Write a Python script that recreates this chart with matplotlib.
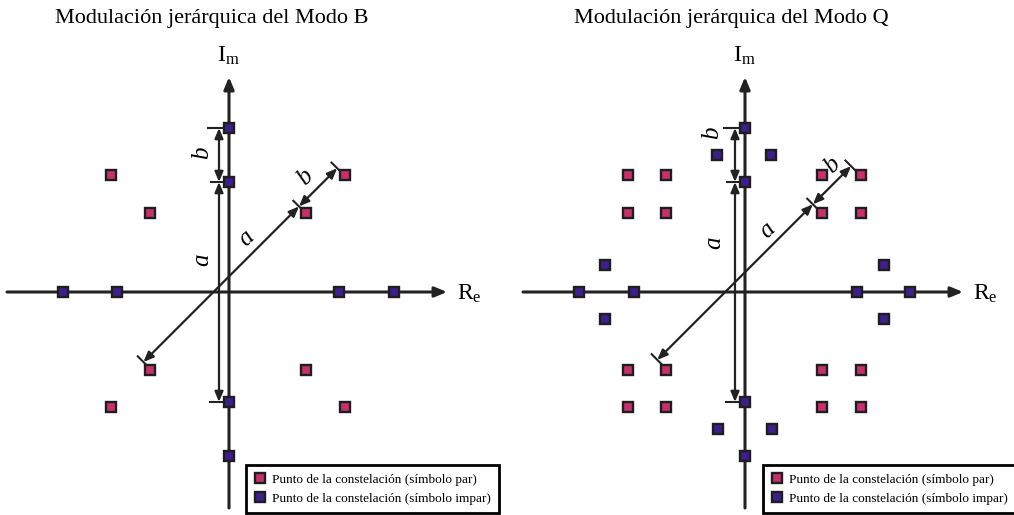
import numpy as np
import matplotlib
matplotlib.use("Agg")
import matplotlib.pyplot as plt
from matplotlib.lines import Line2D

plt.rcParams["font.family"] = ["Liberation Serif", "DejaVu Serif"]
plt.rcParams["mathtext.fontset"] = "custom"
plt.rcParams["mathtext.rm"] = "Liberation Serif"
plt.rcParams["mathtext.it"] = "Liberation Serif:italic"

# ring distances of the constellation (drawing units, 1 unit ~ 1 px)
A = 110
B = 54

titles = ["Modulación jerárquica del Modo B", "Modulación jerárquica del Modo Q"]
legend_labels = [
    "Punto de la constelación (símbolo par)",
    "Punto de la constelación (símbolo impar)",
]

# Modo B : 16 points, two rings
modeB_red_x = [-118, -79, 77, 116, -79, 77, -118, 116]
modeB_red_y = [117, 79, 79, 117, -78, -78, -115, -115]
modeB_blue_x = [0, 0, 0, 0, -166, -112, 110, 165]
modeB_blue_y = [164, 110, -110, -164, 0, 0, 0, 0]

# Modo Q : 32 points
modeQ_red_x = [-117, -79, -117, -79, 77, 116, 77, 116,
               -117, -79, -117, -79, 77, 116, 77, 116]
modeQ_red_y = [117, 117, 79, 79, 117, 117, 79, 79,
               -78, -78, -115, -115, -78, -78, -115, -115]
modeQ_blue_x = [0, 0, 0, 0, -166, -111, 112, 165,
                -28, 26, -140, -140, 139, 139, -27, 27]
modeQ_blue_y = [164, 110, -110, -164, 0, 0, 0, 0,
                137, 137, 27, -27, 27, -27, -137, -137]

RED = "#c8306a"
BLUE = "#3c1f8c"
EDGE = "#1e1e1e"
LINE = "#222222"


def arrow(ax, p0, p1, style="-|>", lw=2.0, ms=12):
    ax.annotate("", xy=p1, xytext=p0,
                arrowprops=dict(arrowstyle=style + ",head_length=0.6,head_width=0.25",
                                color=LINE, lw=lw, shrinkA=0, shrinkB=0,
                                mutation_scale=ms))


def tick(ax, p, n, half):
    ax.plot([p[0] - n[0] * half, p[0] + n[0] * half],
            [p[1] - n[1] * half, p[1] + n[1] * half], color=LINE, lw=1.5)


def draw_panel(ax, rx, ry, bx, by, diag_off, lbl):
    # axes Re / Im
    arrow(ax, (-222, 0), (218, 0), lw=2.2)
    arrow(ax, (0, -216), (0, 215), lw=2.2)
    ax.text(-1, 230, r"$\mathrm{I}_\mathrm{m}$", fontsize=17, ha="center", va="baseline")
    ax.text(228, -8, r"$\mathrm{R}_\mathrm{e}$", fontsize=17, ha="left", va="baseline")

    # vertical dimension
    xv = -10
    arrow(ax, (xv, -A), (xv, A), style="<|-|>", lw=1.6, ms=10)
    arrow(ax, (xv, A), (xv, A + B), style="<|-|>", lw=1.6, ms=10)
    tick(ax, (xv - 1, A + B), (1, 0), 10)
    tick(ax, (xv, A), (1, 0), 8)
    tick(ax, (xv - 3, -A), (1, 0), 6)

    # diagonal dimension
    u = np.array([1, 1]) / np.sqrt(2)
    n = np.array([-1, 1]) / np.sqrt(2)
    P = lambda s: tuple(s * u + diag_off * n)
    arrow(ax, P(-A), P(A), style="<|-|>", lw=1.6, ms=10)
    arrow(ax, P(A), P(A + B), style="<|-|>", lw=1.6, ms=10)
    for s in (-A, A, A + B):
        tick(ax, P(s), n, 8)

    for (x, y, t, r) in lbl:
        ax.text(x, y, t, fontsize=18, style="italic", rotation=r,
                ha="center", va="center", rotation_mode="anchor")

    ax.plot(rx, ry, ls="none", marker="s", ms=7.8, mfc=RED, mec=EDGE, mew=1.7, zorder=5)
    ax.plot(bx, by, ls="none", marker="s", ms=7.8, mfc=BLUE, mec=EDGE, mew=1.7, zorder=5)


fig = plt.figure(figsize=(10.14, 5.15), dpi=100)
W = 507 / 1014

ax_b = fig.add_axes([0, 0, W, 1])
ax_q = fig.add_axes([W, 0, W, 1])
ax_b.set_xlim(-229, 278)
ax_b.set_ylim(-223, 292)
ax_q.set_xlim(-238, 269)
ax_q.set_ylim(-223, 292)
for ax in (ax_b, ax_q):
    ax.axis("off")

draw_panel(ax_b, modeB_red_x, modeB_red_y, modeB_blue_x, modeB_blue_y, 11,
           [(-27, 139, "b", 90), (-27, 32, "a", 90), (17, 54, "a", 45), (76, 115, "b", 45)])
draw_panel(ax_q, modeQ_red_x, modeQ_red_y, modeQ_blue_x, modeQ_blue_y, 14,
           [(-33, 159, "b", 90), (-31, 49, "a", 90), (22, 62, "a", 45), (87, 127, "b", 45)])

fig.text(212 / 1014, 1 - 18 / 515, titles[0], fontsize=16, ha="center", va="center")
fig.text(731 / 1014, 1 - 18 / 515, titles[1], fontsize=16, ha="center", va="center")

handles = [
    Line2D([], [], ls="none", marker="s", ms=7.5, mfc=RED, mec=EDGE, mew=1.7),
    Line2D([], [], ls="none", marker="s", ms=7.5, mfc=BLUE, mec=EDGE, mew=1.7),
]
for ax, x0 in ((ax_b, 246 / 507), (ax_q, (763 - 507) / 507)):
    leg = ax.legend(handles, legend_labels, loc="lower left", bbox_to_anchor=(x0, 2 / 515),
                    borderaxespad=0, fontsize=9.5, handlelength=0.9, handletextpad=0.5,
                    borderpad=0.6, labelspacing=0.55, fancybox=False, framealpha=1,
                    edgecolor="black")
    leg.get_frame().set_linewidth(2)

fig.savefig("out.png", dpi=100)
